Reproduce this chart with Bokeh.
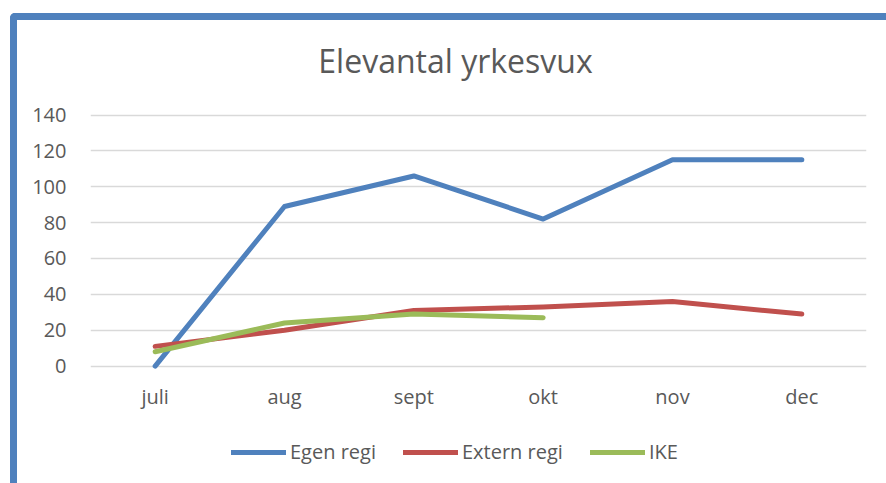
from bokeh.plotting import figure
from bokeh.models import Range1d, FactorRange, Legend, LegendItem, Label
from bokeh.embed import file_html
from bokeh.resources import INLINE

months = ["juli", "aug", "sept", "okt", "nov", "dec"]
egen_regi = [0, 89, 106, 82, 115, 115]
extern_regi = [11, 20, 31, 33, 36, 29]
ike_months = ["juli", "aug", "sept", "okt"]
ike = [8, 24, 29, 27]
y_ticks = [0, 20, 40, 60, 80, 100, 120, 140]
title_text = "Elevantal yrkesvux"

TEXT = "#595959"
FONT = "Open Sans"

p = figure(
    width=876, height=505,
    x_range=FactorRange(*months, range_padding=0),
    y_range=Range1d(-63.8, 192.7),
    output_backend="svg", toolbar_location=None,
    min_border_left=73, min_border_right=27,
    min_border_top=0, min_border_bottom=45,
)
p.styles = {
    "border-top": "7px solid #4f81bd",
    "border-left": "7px solid #4f81bd",
    "border-top-left-radius": "5px",
    "margin-left": "10px",
    "margin-top": "13px",
    "margin-bottom": "-35px",
    "overflow": "hidden",
}
p.outline_line_color = None
p.background_fill_color = "white"
p.border_fill_color = "white"

for ax in (p.xaxis[0], p.yaxis[0]):
    ax.axis_line_color = None
    ax.major_tick_line_color = None
    ax.minor_tick_line_color = None
    ax.major_label_text_font = FONT
    ax.major_label_text_font_size = "20px"
    ax.major_label_text_color = TEXT
p.yaxis.ticker = y_ticks
p.yaxis.major_label_standoff = 18
p.xaxis.fixed_location = 0
p.xaxis.major_label_standoff = 11

p.xgrid.grid_line_color = None
p.ygrid.ticker = y_ticks
p.ygrid.grid_line_color = "#d9d9d9"
p.ygrid.grid_line_width = 1.5

r1 = p.line(months, egen_regi, line_color="#4f81bd", line_width=5, line_cap="round", line_join="round")
r2 = p.line(months, extern_regi, line_color="#c0504d", line_width=5, line_cap="round", line_join="round")
r3 = p.line(ike_months, ike, line_color="#9bbb59", line_width=5, line_cap="round", line_join="round")

p.add_layout(Label(x=2.822, y=170.4, text=title_text, text_align="center",
                   text_baseline="alphabetic", text_font=FONT, text_font_size="32px",
                   text_color=TEXT))

legend = Legend(
    items=[LegendItem(label="Egen regi", renderers=[r1]),
           LegendItem(label="Extern regi", renderers=[r2]),
           LegendItem(label="IKE", renderers=[r3])],
    orientation="horizontal",
    location=(141, 15),
    glyph_width=55, glyph_height=20,
    label_standoff=4, spacing=27, padding=0, margin=0,
    border_line_color=None, background_fill_alpha=0,
    label_text_font=FONT, label_text_font_size="20px", label_text_color=TEXT,
)
p.add_layout(legend, "center")

open("out.html", "w").write(file_html(p, INLINE))
